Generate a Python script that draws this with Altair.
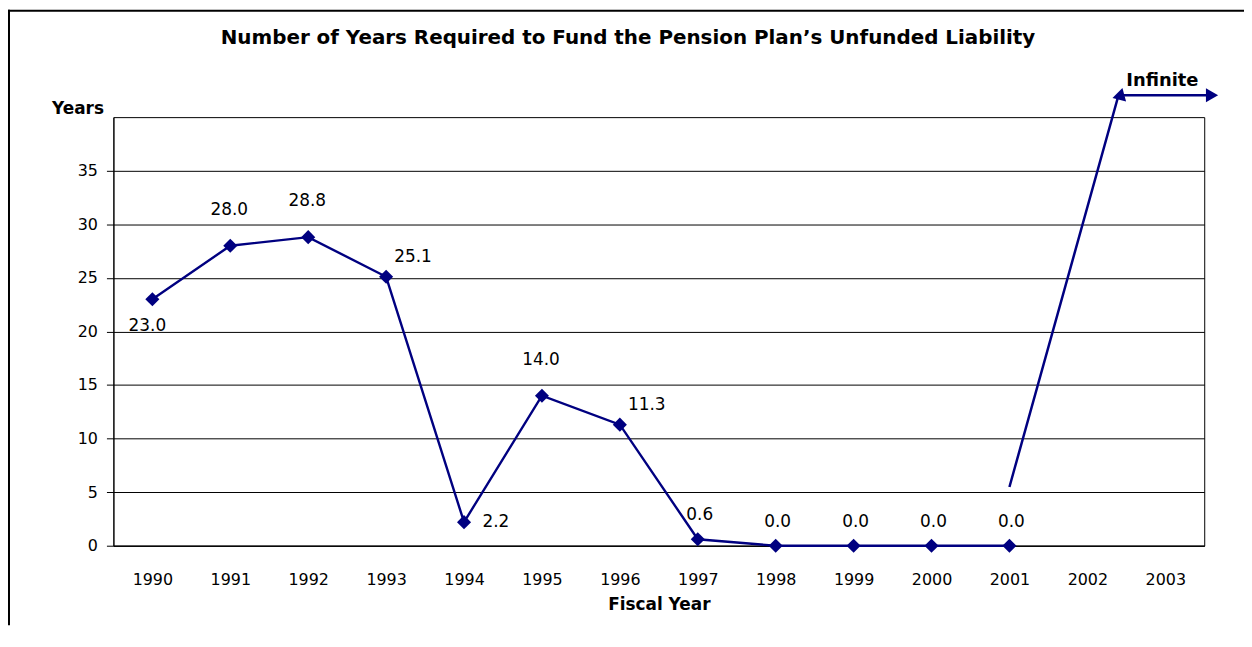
import altair as alt
import pandas as pd

# ---- data ----
years = [1990, 1991, 1992, 1993, 1994, 1995, 1996, 1997, 1998, 1999, 2000, 2001]
values = [23.0, 28.0, 28.8, 25.1, 2.2, 14.0, 11.3, 0.6, 0.0, 0.0, 0.0, 0.0]
label_pos = ["below", "above", "above", "upright", "right", "above",
             "upright", "near", "near", "near", "near", "near"]
axis_years = list(range(1990, 2004))
y_ticks = [0, 5, 10, 15, 20, 25, 30, 35]
title_text = ["Number of Years Required to Fund the Pension Plan\u2019s Unfunded Liability"]

# "Infinite" annotation arrow (data units of the chart's scales)
arrow_x = [2001.0, 2002.40, 2003.55]
arrow_y = [5.48, 42.04, 42.04]
head_up_x, head_up_y = [2002.43], [42.17]
head_right_x, head_right_y = [2003.60], [42.04]
note_text, note_x, note_y = ["Infinite"], [2002.50], [42.95]

NAVY = "#000080"
FONT = "DejaVu Sans"

df = pd.DataFrame({"year": years, "value": values, "pos": label_pos})
df["label"] = df["value"].map(lambda v: f"{v:.1f}")
arrow_df = pd.DataFrame({"x": arrow_x, "y": arrow_y, "o": list(range(len(arrow_x)))})
up_df = pd.DataFrame({"x": head_up_x, "y": head_up_y})
right_df = pd.DataFrame({"x": head_right_x, "y": head_right_y})
note_df = pd.DataFrame({"x": note_x, "y": note_y, "t": note_text})
title_df = pd.DataFrame({"t": title_text})

W, H = 1097, 431

xscale = alt.Scale(domain=[1989.5, 2003.5], nice=False, zero=False)
yscale = alt.Scale(domain=[0, 40], nice=False)

X = alt.X("year:Q", scale=xscale, title="Fiscal Year",
          axis=alt.Axis(values=axis_years, format="d", grid=False, ticks=False,
                        labelPadding=26, titlePadding=9, labelFontSize=16,
                        titleFontSize=17, labelFlush=False))
Y = alt.Y("value:Q", scale=yscale, title="Years",
          axis=alt.Axis(values=y_ticks, grid=True, tickSize=7, labelPadding=9,
                        labelFontSize=16, titleFontSize=17, titleAngle=0,
                        titleAlign="right", titleBaseline="alphabetic",
                        titleX=-10, titleY=-4))

base = alt.Chart(df)
line = base.mark_line(color=NAVY, strokeWidth=2.4).encode(x=X, y=Y)
pts = base.mark_point(shape="diamond", filled=True, color=NAVY, size=200,
                      opacity=1).encode(x="year:Q", y="value:Q")


def labels(pos, dx, dy):
    return base.transform_filter(alt.datum.pos == pos).mark_text(
        font=FONT, fontSize=17, color="black", dx=dx, dy=dy,
        align="center", baseline="middle").encode(x="year:Q", y="value:Q", text="label:N")


lab = [labels("below", -5, 27), labels("above", -1, -36), labels("near", 2, -24),
       labels("upright", 27, -20), labels("right", 32, 0)]

arrow = alt.Chart(arrow_df).mark_line(color=NAVY, strokeWidth=2.5).encode(
    x=alt.X("x:Q", scale=xscale), y=alt.Y("y:Q", scale=yscale), order="o:Q")
head_up = alt.Chart(up_df).mark_point(shape="triangle-up", filled=True, color=NAVY,
                                      size=200, opacity=1, angle=15).encode(
    x=alt.X("x:Q", scale=xscale), y=alt.Y("y:Q", scale=yscale))
head_right = alt.Chart(right_df).mark_point(shape="triangle-right", filled=True, color=NAVY,
                                            size=200, opacity=1).encode(
    x=alt.X("x:Q", scale=xscale), y=alt.Y("y:Q", scale=yscale))
note = alt.Chart(note_df).mark_text(font=FONT, fontSize=18, fontWeight="bold", color="black",
                                    align="left", baseline="alphabetic").encode(
    x=alt.X("x:Q", scale=xscale), y=alt.Y("y:Q", scale=yscale), text="t:N")

title = alt.Chart(title_df).mark_text(font=FONT, fontSize=20, fontWeight="bold", color="black",
                                      align="center", baseline="alphabetic").encode(
    x=alt.value(W / 2 - 31), y=alt.value(-74), text="t:N")

frame_top = alt.Chart(pd.DataFrame({"a": [0]})).mark_rule(color="black", strokeWidth=2).encode(
    x=alt.value(-106), x2=alt.value(W + 40), y=alt.value(-107))
frame_left = alt.Chart(pd.DataFrame({"a": [0]})).mark_rule(color="black", strokeWidth=2).encode(
    x=alt.value(-105), y=alt.value(-108), y2=alt.value(H + 80))

chart = alt.layer(line, pts, *lab, arrow, head_up, head_right, note, title,
                  frame_top, frame_left).properties(
    width=W, height=H,
    autosize=alt.AutoSizeParams(type="none"),
    padding={"left": 106, "top": 108, "right": 40, "bottom": 80},
).configure(background="white").configure_view(stroke="black", strokeWidth=1).configure_axis(
    domainColor="black", tickColor="black", gridColor="black", gridOpacity=1,
    labelColor="black", titleColor="black", labelFont=FONT, titleFont=FONT,
    titleFontWeight="bold", labelFontWeight="normal"
)

chart.save("out.html", embed_options={"renderer": "svg", "actions": False})
